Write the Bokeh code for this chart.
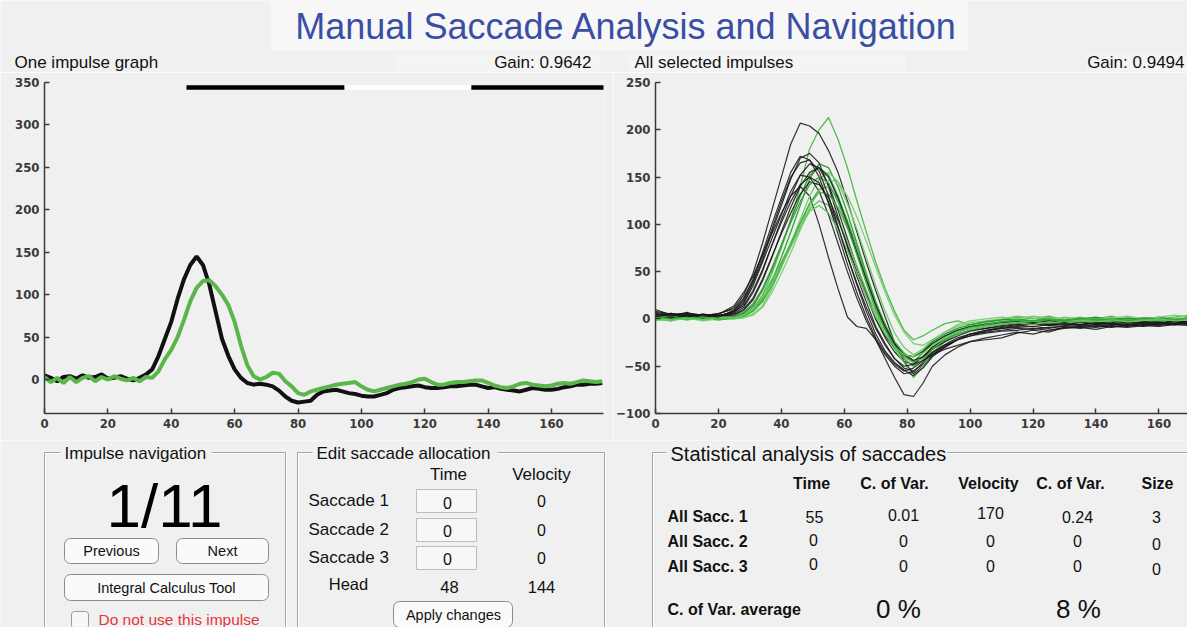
from bokeh.plotting import figure
from bokeh.layouts import column, row
from bokeh.models import Range1d, FixedTicker
from bokeh.core.properties import value
from bokeh.embed import file_html
from bokeh.resources import INLINE

# ---------------- data ----------------
t_left = list(range(0, 177, 2))
head_left = [5, 2, -2, 3, 4, 1, 5, 2, 3, 6,
             1, 2, 4, 1, -1, 2, 6, 12, 28, 48,
             68, 95, 118, 135, 145, 135, 112, 80, 48, 28,
             12, 2, -4, -6, -5, -6, -8, -13, -20, -25,
             -27, -26, -25, -18, -14, -13, -12, -14, -16, -17,
             -19, -20, -20, -18, -16, -12, -10, -9, -8, -7,
             -9, -10, -10, -9, -8, -8, -7, -6, -6, -8,
             -10, -9, -11, -12, -13, -14, -12, -10, -11, -12,
             -12, -11, -9, -8, -6, -6, -5, -5, -4]
eye_left = [3, -3, 2, -4, 3, -3, 2, 4, -2, 3,
            0, 4, 1, -1, 2, -2, 3, 2, 10, 24,
            35, 50, 70, 92, 108, 116, 117, 110, 100, 88,
            68, 40, 17, 4, 0, 3, 8, 7, -2, -8,
            -16, -18, -14, -12, -10, -8, -6, -5, -4, -3,
            -8, -12, -14, -12, -10, -8, -6, -5, -3, 0,
            1, -3, -6, -6, -4, -3, -3, -2, -1, -1,
            -4, -7, -9, -10, -8, -5, -4, -6, -7, -8,
            -7, -5, -4, -5, -3, -1, -2, -3, -2]

bar_starts = [44.8, 94.7, 134.7]
bar_ends = [94.7, 134.7, 177.0]
bar_colors = ["#000000", "#ffffff", "#000000"]
bar_level = 344

t_right = [0, 5, 10, 15, 20, 25,
           28, 31, 34, 37, 40, 43, 46, 49, 52, 55, 58, 61, 64, 67, 70, 73, 76, 79, 82, 85, 88,
           92, 96, 100,
           105, 110, 115, 120, 125, 130, 135, 140, 145, 150, 155, 160, 165, 170, 175]

head_1 = [8, 5, 6, 4, 5, 12, 25, 48, 80, 115, 150, 185, 207, 204, 196, 178, 155, 125, 92, 60, 30, 2, -25, -45, -58, -50, -38, -28, -22, -18, -15, -13, -12, -10, -12, -9, -8, -6, -8, -7, -5, -6, -4, -5, -2]
head_2 = [10, 4, 6, 3, 5, 14, 28, 45, 68, 90, 112, 130, 140, 130, 100, 65, 32, 2, -8, -10, -22, -42, -62, -80, -82, -68, -50, -38, -30, -24, -20, -17, -14, -16, -12, -10, -9, -11, -8, -9, -7, -8, -6, -7, -5]
head_3 = [3, 6, 2, 5, 3, 8, 18, 38, 62, 92, 120, 148, 170, 175, 165, 140, 108, 76, 45, 18, -8, -26, -42, -52, -55, -48, -38, -30, -22, -18, -13, -10, -8, -5, -7, -6, -4, -6, -5, -7, -4, -3, -5, -2, -4]
head_4 = [5, 3, 7, 2, 4, 6, 12, 28, 50, 78, 105, 130, 152, 164, 160, 142, 115, 85, 55, 28, 0, -20, -35, -45, -48, -40, -30, -22, -16, -12, -10, -7, -5, -6, -4, -5, -7, -4, -6, -3, -5, -4, -2, -3, -1]
head_5 = [2, 5, 3, 4, 2, 7, 16, 35, 60, 85, 110, 135, 152, 150, 135, 110, 80, 50, 22, -2, -22, -38, -50, -58, -56, -46, -36, -28, -22, -16, -12, -10, -9, -8, -10, -7, -6, -8, -6, -5, -7, -4, -6, -3, -5]
head_6 = [6, 2, 4, 1, 3, 5, 10, 22, 42, 66, 90, 112, 132, 145, 142, 128, 105, 78, 50, 24, 0, -18, -30, -38, -40, -35, -26, -18, -12, -8, -6, -4, -3, -5, -2, -4, -3, -5, -2, -4, -3, -5, -2, -4, -3]
head_7 = [7, 4, 5, 3, 6, 10, 22, 42, 70, 100, 128, 155, 172, 168, 150, 122, 90, 58, 28, 2, -20, -36, -48, -55, -52, -44, -35, -27, -20, -16, -14, -12, -10, -11, -9, -8, -10, -7, -9, -6, -8, -5, -6, -4, -5]
head_8 = [3, 1, 4, 2, 3, 4, 9, 20, 40, 65, 92, 118, 140, 155, 160, 150, 128, 100, 70, 42, 15, -8, -26, -38, -44, -40, -32, -24, -18, -13, -10, -8, -6, -4, -6, -5, -3, -5, -4, -2, -4, -3, -5, -2, -3]
head_9 = [4, 6, 2, 5, 3, 8, 14, 30, 52, 78, 102, 124, 142, 150, 144, 124, 96, 66, 38, 12, -10, -28, -42, -50, -48, -44, -38, -32, -28, -24, -22, -20, -15, -12, -14, -9, -8, -9, -7, -8, -6, -7, -5, -6, -4]
head_10 = [5, 3, 6, 4, 2, 9, 20, 40, 66, 95, 124, 150, 165, 168, 156, 130, 98, 66, 36, 8, -16, -34, -46, -54, -60, -52, -40, -30, -22, -16, -12, -9, -7, -8, -6, -5, -6, -4, -5, -6, -3, -4, -5, -3, -4]

eye_1 = [0, -2, 3, 0, 2, 0, 3, 10, 25, 48, 75, 105, 140, 180, 200, 213, 190, 160, 125, 92, 60, 32, 8, -12, -22, -18, -12, -5, -2, -6, -3, -1, 2, 0, 3, -1, 1, 0, 3, -2, 1, 0, 2, 4, 3]
eye_2 = [2, 0, 4, -1, 1, 2, 4, 8, 20, 40, 65, 92, 120, 148, 164, 160, 140, 112, 80, 48, 18, -8, -28, -40, -45, -36, -26, -18, -12, -8, -5, -3, -2, -4, -1, -3, 0, -2, 1, -1, -3, 0, -2, 1, -1]
eye_3 = [-2, 1, -1, 2, 0, 1, 2, 5, 14, 32, 55, 80, 105, 130, 148, 155, 145, 122, 95, 65, 35, 8, -15, -30, -38, -32, -22, -14, -8, -4, -2, 0, 3, 1, -1, 2, 0, -1, 2, 0, 1, -1, 1, 0, 2]
eye_4 = [1, -1, 2, 0, -1, 1, 3, 8, 18, 35, 55, 78, 100, 122, 137, 140, 128, 104, 76, 46, 18, -6, -26, -40, -46, -40, -30, -20, -14, -10, -6, -4, -2, -3, 0, -2, -1, 1, -2, 0, -1, 1, -2, 0, -1]
eye_5 = [0, 2, -1, 1, 0, 2, 5, 12, 25, 42, 60, 80, 100, 116, 125, 120, 104, 82, 56, 30, 6, -16, -32, -46, -62, -50, -36, -24, -16, -12, -8, -5, -3, -5, -2, -4, -1, -3, 0, -2, -1, -3, 0, -1, 0]
eye_6 = [3, 1, 2, -1, 2, 3, 6, 14, 30, 52, 78, 104, 130, 152, 160, 152, 130, 102, 72, 42, 14, -10, -28, -38, -40, -34, -24, -16, -10, -6, -3, -1, 0, -2, 1, -1, 0, 2, -1, 1, 0, 2, -1, 1, 0]
eye_7 = [-1, 0, 1, -2, 0, 0, 1, 4, 12, 28, 48, 70, 94, 118, 136, 147, 145, 130, 108, 82, 55, 28, 4, -14, -26, -28, -22, -14, -6, -2, 0, 2, 0, 3, 1, 0, 2, -1, 1, 3, 0, 2, 4, 2, 3]
eye_8 = [2, 0, 1, 3, -1, 1, 4, 10, 22, 38, 58, 80, 102, 122, 134, 132, 118, 96, 70, 42, 16, -6, -24, -36, -44, -42, -32, -22, -16, -12, -8, -6, -4, -3, -5, -2, -4, -1, -3, -2, 0, -2, -1, 1, -1]
eye_9 = [1, 3, 0, 2, 1, 3, 7, 16, 32, 54, 78, 102, 124, 142, 150, 144, 124, 98, 68, 38, 10, -12, -30, -42, -50, -44, -32, -22, -14, -9, -6, -3, -1, -2, 0, -2, 1, -1, 0, -2, 1, 0, -1, 2, 0]
eye_10 = [0, -2, 1, -1, 2, 1, 4, 10, 22, 38, 56, 76, 96, 114, 120, 112, 94, 72, 48, 24, 2, -16, -30, -38, -40, -36, -28, -20, -14, -10, -8, -5, -4, -6, -3, -5, -2, -4, -1, -3, -2, 0, -2, -1, 0]

head_traces = [head_1, head_2, head_3, head_4, head_5, head_6, head_7, head_8, head_9, head_10]
eye_traces = [eye_1, eye_2, eye_3, eye_4, eye_5, eye_6, eye_7, eye_8, eye_9, eye_10]
eye_colors = ["#52bb4c", "#389f3a", "#72cc6a", "#44ae42", "#5ec258", "#2f9233",
              "#7ad072", "#4ab447", "#3aa23d", "#66c660"]

x_ticks = [0, 20, 40, 60, 80, 100, 120, 140, 160]
y_ticks_left = [0, 50, 100, 150, 200, 250, 300, 350]
y_ticks_right = [-100, -50, 0, 50, 100, 150, 200, 250]

left_gain = "Gain: 0.9642"
right_gain = "Gain: 0.9494"

BG = "#f0f0f0"
UI_FONT = "Liberation Sans"
TICK_FONT = "DejaVu Sans Condensed"


def style_chart(p, yticks):
    p.grid.visible = False
    p.xaxis.ticker = FixedTicker(ticks=x_ticks)
    p.yaxis.ticker = FixedTicker(ticks=yticks)
    for ax in p.axis:
        ax.axis_line_color = "#3a3a3a"
        ax.axis_line_width = 1.5
        ax.major_tick_line_color = "#3a3a3a"
        ax.major_tick_line_width = 1.5
        ax.major_tick_in = 5
        ax.major_tick_out = 0
        ax.minor_tick_line_color = None
        ax.major_label_text_font = TICK_FONT
        ax.major_label_text_font_size = "13px"
        ax.major_label_text_font_style = "bold"
        ax.major_label_text_color = "#3a3a3a"
        ax.major_label_standoff = 5


# ---------------- header (title + chart captions) ----------------
hdr = figure(width=1187, height=72, x_range=Range1d(0, 1187), y_range=Range1d(72, 0),
             output_backend="svg", toolbar_location=None, x_axis_type=None, y_axis_type=None,
             background_fill_color=BG, border_fill_color=BG, outline_line_color=None, min_border=0)
hdr.grid.visible = False
hdr.quad(left=[270, 395, 628, 1085], right=[967, 600, 905, 1203], top=[0, 53, 53, 53],
         bottom=[50, 71, 71, 71], fill_color=["#f7f7f7", "#f4f4f4", "#f4f4f4", "#f4f4f4"], line_color=None)
hdr.text(x=[626], y=[26], text=["Manual Saccade Analysis and Navigation"],
         text_font=value(UI_FONT), text_font_size="36px", text_color="#3a4fa3",
         text_align="center", text_baseline="middle")
hdr.text(x=[14, 634], y=[62, 62], text=["One impulse graph", "All selected impulses"],
         text_font=value(UI_FONT), text_font_size="17px", text_color="#111111",
         text_align="left", text_baseline="middle")
hdr.text(x=[591, 1184], y=[62, 62], text=[left_gain, right_gain],
         text_font=value(UI_FONT), text_font_size="17px", text_color="#111111",
         text_align="right", text_baseline="middle")

# ---------------- left chart ----------------
pl = figure(width=613, height=368, x_range=Range1d(0, 176.4), y_range=Range1d(-40, 350),
            output_backend="svg", toolbar_location=None,
            background_fill_color=BG, border_fill_color=BG, outline_line_color=None,
            min_border_left=44, min_border_right=10, min_border_top=9, min_border_bottom=25)
style_chart(pl, y_ticks_left)
pl.segment(x0=bar_starts, x1=bar_ends, y0=[bar_level] * 3, y1=[bar_level] * 3,
           line_color=bar_colors, line_width=4.5)
pl.line(t_left, head_left, line_color="#111111", line_width=4)
pl.line(t_left, eye_left, line_color="#5ab64a", line_width=4)

# ---------------- right chart ----------------
pr = figure(width=574, height=368, x_range=Range1d(0, 169.1), y_range=Range1d(-100, 250),
            output_backend="svg", toolbar_location=None,
            background_fill_color=BG, border_fill_color=BG, outline_line_color=None,
            min_border_left=36, min_border_right=0, min_border_top=10, min_border_bottom=27)
style_chart(pr, y_ticks_right)
for i in range(len(head_traces)):
    pr.line(t_right, eye_traces[i], line_color=eye_colors[i], line_width=1.3)
    pr.line(t_right, head_traces[i], line_color="#1a1a1a", line_width=1.2, line_alpha=0.9)

# ---------------- bottom control panels ----------------
bt = figure(width=1187, height=187, x_range=Range1d(0, 1187), y_range=Range1d(627, 440),
            output_backend="svg", toolbar_location=None, x_axis_type=None, y_axis_type=None,
            background_fill_color=BG, border_fill_color=BG, outline_line_color=None, min_border=0)
bt.grid.visible = False

# group boxes
bt.quad(left=[45, 298, 653], right=[286, 605, 1215], top=[453, 453, 453], bottom=[652, 652, 652],
        fill_color=None, line_color="#ffffff", line_width=1)
bt.quad(left=[44, 297, 652], right=[285, 604, 1214], top=[452, 452, 452], bottom=[651, 651, 651],
        fill_color=None, line_color="#a4a4a4", line_width=1)
bt.quad(left=[60, 312, 666], right=[211, 497, 947], top=[444, 444, 444], bottom=[460, 460, 460],
        fill_color=BG, line_color=None)
bt.text(x=[64, 316], y=[453, 453], text=["Impulse navigation", "Edit saccade allocation"],
        text_font=value(UI_FONT), text_font_size="17px", text_color="#111111",
        text_align="left", text_baseline="middle")
bt.text(x=[670], y=[453], text=["Statistical analysis of saccades"],
        text_font=value(UI_FONT), text_font_size="20px", text_color="#111111",
        text_align="left", text_baseline="middle")

# impulse navigation
bt.text(x=[164], y=[505], text=["1/11"], text_font=value(UI_FONT), text_font_size="62px",
        text_color="#000000", text_align="center", text_baseline="middle")
bt.quad(left=[64, 176, 64], right=[158, 268, 268], top=[538, 538, 574], bottom=[563, 563, 600],
        fill_color="#fafafa", line_color="#8c8c8c", line_width=1, border_radius=6)
bt.text(x=[111, 222, 166], y=[550, 550, 587], text=["Previous", "Next", "Integral Calculus Tool"],
        text_font=value(UI_FONT), text_font_size="14.5px", text_color="#111111",
        text_align="center", text_baseline="middle")
bt.quad(left=[71], right=[88], top=[611], bottom=[628], fill_color="#f8f8f8",
        line_color="#9a9a9a", border_radius=3)
bt.text(x=[98], y=[619], text=["Do not use this impulse"], text_font=value(UI_FONT),
        text_font_size="15.5px", text_color="#e5363a", text_align="left", text_baseline="middle")

# edit saccade allocation
bt.text(x=[448, 541], y=[474, 474], text=["Time", "Velocity"], text_font=value(UI_FONT),
        text_font_size="17px", text_color="#111111", text_align="center", text_baseline="middle")
bt.text(x=[308, 308, 308], y=[500, 529, 557], text=["Saccade 1", "Saccade 2", "Saccade 3"],
        text_font=value(UI_FONT), text_font_size="17px", text_color="#111111",
        text_align="left", text_baseline="middle")
bt.quad(left=[416, 416, 416], right=[476, 476, 476], top=[489, 518, 546], bottom=[512, 541, 569],
        fill_color="#f7f7f7", line_color="#bdbdbd")
bt.text(x=[447, 447, 447, 541, 541, 541], y=[502, 530, 558, 500, 529, 557],
        text=["0", "0", "0", "0", "0", "0"], text_font=value(UI_FONT), text_font_size="16px",
        text_color="#111111", text_align="center", text_baseline="middle")
bt.text(x=[348, 449, 541], y=[583, 586, 586], text=["Head", "48", "144"], text_font=value(UI_FONT),
        text_font_size="16.5px", text_color="#111111", text_align="center", text_baseline="middle")
bt.quad(left=[393], right=[512], top=[601], bottom=[627], fill_color="#fafafa",
        line_color="#8c8c8c", border_radius=6)
bt.text(x=[453], y=[614], text=["Apply changes"], text_font=value(UI_FONT), text_font_size="14.5px",
        text_color="#111111", text_align="center", text_baseline="middle")

# statistical analysis
bt.text(x=[811, 894, 988, 1070, 1157], y=[483] * 5,
        text=["Time", "C. of Var.", "Velocity", "C. of Var.", "Size"],
        text_font=value(UI_FONT), text_font_size="16px", text_font_style="bold",
        text_color="#111111", text_align="center", text_baseline="middle")
bt.text(x=[667, 667, 667, 667], y=[516, 541, 566, 609],
        text=["All Sacc. 1", "All Sacc. 2", "All Sacc. 3", "C. of Var. average"],
        text_font=value(UI_FONT), text_font_size="16px", text_font_style="bold",
        text_color="#111111", text_align="left", text_baseline="middle")
bt.text(x=[814, 903, 990, 1077, 1156], y=[516, 514, 512, 516, 516],
        text=["55", "0.01", "170", "0.24", "3"], text_font=value(UI_FONT), text_font_size="16px",
        text_color="#111111", text_align="center", text_baseline="middle")
bt.text(x=[813, 903, 990, 1077, 1156, 813, 903, 990, 1077, 1156],
        y=[539, 540, 540, 540, 543, 563, 565, 565, 565, 568],
        text=["0"] * 10, text_font=value(UI_FONT), text_font_size="16px",
        text_color="#111111", text_align="center", text_baseline="middle")
bt.text(x=[898, 1078], y=[608, 608], text=["0 %", "8 %"], text_font=value(UI_FONT),
        text_font_size="26px", text_color="#111111", text_align="center", text_baseline="middle")

layout = column(hdr, row(pl, pr), bt)
open("out.html", "w").write(file_html(layout, INLINE))
